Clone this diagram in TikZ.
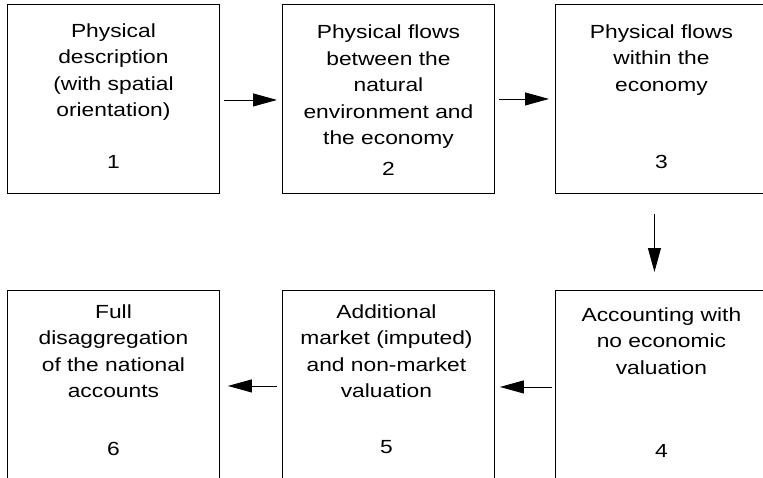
\documentclass[tikz,border=0pt]{standalone}
\usepackage{fontspec}
\setmainfont{Liberation Sans}[FakeStretch=1.2]
\usetikzlibrary{arrows.meta}
\begin{document}
\begin{tikzpicture}[x=1pt,y=1pt,
  stage/.style={draw=black, line width=0.9pt, minimum width=212pt, minimum height=189pt,
    inner sep=0pt, anchor=north west},
  caption/.style={align=center, anchor=base, inner sep=0pt,
    font=\fontsize{19}{26.5}\selectfont},
  stagenum/.style={anchor=base, inner sep=0pt, font=\fontsize{19}{26.5}\selectfont},
  flow/.style={line width=0.9pt, -{Triangle[length=24pt,width=13pt]}}]
\useasboundingbox (0,0) rectangle (763,-477);
\clip (0,0) rectangle (763,-477);

% the six stages
\node[stage] (b1) at (7,-4) {};
\node[stage] (b2) at (282,-4) {};
\node[stage] (b3) at (555,-4) {};
\node[stage] (b4) at (555,-290) {};
\node[stage] (b5) at (282,-290) {};
\node[stage] (b6) at (7,-290) {};

% descriptions (placed by the baseline of their last line)
\node[caption] (t1) at ([yshift=-112.5pt]b1.north) {Physical\\description\\(with spatial\\orientation)};
\node[caption] (t2) at ([yshift=-140.5pt]b2.north) {Physical flows\\between the\\natural\\environment and\\the economy};
\node[caption] (t3) at ([yshift=-87pt]b3.north) {Physical flows\\within the\\economy};
\node[caption] (t4) at ([yshift=-84pt]b4.north) {Accounting with\\no economic\\valuation};
\node[caption] (t5) at ([yshift=-107.5pt,xshift=-2pt]b5.north) {Additional\\market (imputed)\\and non-market\\valuation};
\node[caption] (t6) at ([yshift=-107.5pt]b6.north) {Full\\disaggregation\\of the national\\accounts};

% stage numbers
\node[stagenum] (n1) at ([yshift=-164pt]b1.north) {1};
\node[stagenum] (n2) at ([yshift=-171pt]b2.north) {2};
\node[stagenum] (n3) at ([yshift=-164pt]b3.north) {3};
\node[stagenum] (n4) at ([yshift=-167pt]b4.north) {4};
\node[stagenum] (n5) at ([yshift=-163pt,xshift=-2pt]b5.north) {5};
\node[stagenum] (n6) at ([yshift=-165pt]b6.north) {6};

% flow between stages
\draw[flow, shorten <=4pt, shorten >=5pt] ([yshift=-1pt]b1.east) -- ([yshift=-1pt]b2.west);
\draw[flow, shorten <=4pt, shorten >=6pt] (b2.east) -- (b3.west);
\draw[flow, shorten <=20pt, shorten >=18pt] ([xshift=-7pt]b3.south) -- ([xshift=-7pt]b4.north);
\draw[flow, shorten <=3pt, shorten >=5pt] ([yshift=-2pt]b4.west) -- ([yshift=-2pt]b5.east);
\draw[flow, shorten <=5pt, shorten >=8pt] ([yshift=-1pt]b5.west) -- ([yshift=-1pt]b6.east);
\end{tikzpicture}
\end{document}
